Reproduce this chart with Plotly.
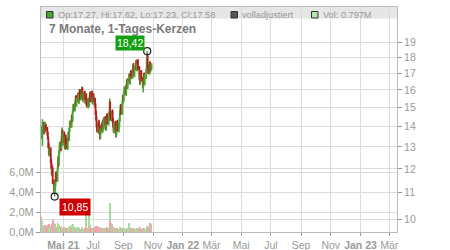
import numpy as np
import pandas as pd
import plotly.graph_objects as go

start_date = "2021-03-17"

opens = [13.70, 13.50, 13.90, 14.15, 13.75, 14.00, 13.85, 14.05, 13.90, 13.65,
         13.40, 13.10, 12.65, 12.90, 12.35, 12.15, 11.75, 12.00, 11.45, 11.00,
         11.10, 11.35, 11.75, 11.50, 12.05, 12.45, 12.25, 12.70, 13.15, 12.95,
         13.35, 13.75, 13.15, 13.60, 13.35, 12.95, 13.50, 13.30, 12.90, 13.30,
         13.65, 13.35, 13.80, 14.25, 14.00, 14.55, 14.30, 14.75, 15.15, 14.85,
         15.25, 15.60, 15.15, 15.40, 15.75, 15.30, 15.55, 15.95, 15.45, 15.70,
         16.10, 15.75, 15.40, 15.85, 15.60, 15.25, 15.70, 15.45, 15.05, 15.40,
         15.15, 15.45, 15.80, 15.35, 15.90, 15.65, 15.25, 15.70, 15.50, 15.15,
         14.75, 14.45, 14.10, 13.75, 14.25, 13.70, 14.00, 13.45, 13.75, 14.15,
         13.80, 14.30, 13.95, 14.45, 14.20, 13.85, 14.25, 14.60, 14.15, 14.40,
         14.65, 15.25, 14.65, 14.35, 14.80, 14.35, 14.10, 13.75, 14.20, 13.95,
         13.60, 14.05, 14.25, 13.80, 14.05, 14.30, 14.75, 15.10, 14.70, 15.25,
         15.65, 15.40, 15.80, 16.15, 15.75, 16.20, 16.55, 16.15, 16.55, 16.90,
         16.40, 16.70, 17.10, 16.75, 17.15, 17.50, 17.15, 16.85, 17.30, 17.65,
         17.20, 17.45, 17.75, 17.35, 16.75, 16.40, 16.75, 17.10, 16.65, 16.15,
         16.50, 16.95, 16.35, 16.75, 17.15, 17.80, 18.15, 17.45, 17.00, 17.65,
         17.15, 17.50, 17.27]

highs = [13.78, 14.05, 14.37, 14.25, 14.15, 14.10, 14.25, 14.12, 13.98, 13.75,
         13.50, 13.20, 12.95, 12.98, 12.45, 12.25, 12.05, 12.10, 11.55, 11.25,
         11.45, 11.85, 11.90, 12.10, 12.55, 12.60, 12.85, 13.25, 13.30, 13.55,
         13.95, 13.85, 13.70, 13.75, 13.45, 13.55, 13.60, 13.40, 13.45, 13.75,
         13.75, 13.95, 14.30, 14.35, 14.60, 14.65, 14.90, 15.20, 15.25, 15.40,
         15.65, 15.70, 15.55, 15.85, 15.85, 15.70, 16.05, 16.05, 15.85, 16.20,
         16.15, 15.85, 15.90, 15.95, 15.70, 15.75, 15.80, 15.55, 15.45, 15.50,
         15.60, 15.85, 15.90, 15.95, 15.95, 15.75, 15.75, 15.80, 15.55, 15.25,
         14.85, 14.55, 14.20, 14.30, 14.35, 14.05, 14.10, 13.90, 14.20, 14.25,
         14.35, 14.40, 14.50, 14.55, 14.30, 14.40, 14.65, 14.70, 14.55, 14.80,
         15.50, 15.35, 14.75, 14.85, 14.90, 14.45, 14.20, 14.25, 14.30, 14.05,
         14.10, 14.30, 14.35, 14.20, 14.45, 14.90, 15.15, 15.20, 15.40, 15.70,
         15.75, 15.95, 16.20, 16.25, 16.35, 16.60, 16.65, 16.70, 16.95, 17.00,
         16.85, 17.15, 17.20, 17.30, 17.55, 17.65, 17.25, 17.45, 17.80, 17.85,
         17.60, 17.85, 17.90, 17.45, 16.85, 16.90, 17.15, 17.20, 16.75, 16.65,
         17.00, 17.05, 16.90, 17.30, 17.95, 18.42, 18.25, 17.55, 17.70, 17.75,
         17.55, 17.60, 17.62]

lows = [13.40, 13.45, 13.05, 13.60, 13.65, 13.70, 13.75, 13.80, 13.55, 13.35,
        12.95, 12.60, 12.55, 12.25, 12.00, 11.72, 11.70, 11.35, 11.00, 10.85,
        11.05, 11.25, 11.45, 11.45, 11.95, 12.10, 12.15, 12.65, 12.80, 12.90,
        13.25, 13.10, 13.05, 13.20, 12.90, 12.85, 13.15, 12.90, 12.85, 13.25,
        13.30, 13.30, 13.75, 13.95, 13.95, 14.25, 14.25, 14.70, 14.80, 14.80,
        15.15, 15.10, 15.05, 15.35, 15.25, 15.20, 15.45, 15.40, 15.40, 15.65,
        15.60, 15.35, 15.30, 15.45, 15.20, 15.15, 15.30, 15.00, 14.95, 15.10,
        15.05, 15.35, 15.30, 15.30, 15.50, 15.20, 15.15, 15.35, 15.00, 14.60,
        14.30, 13.95, 13.70, 13.65, 13.65, 13.60, 13.35, 13.40, 13.65, 13.75,
        13.70, 13.90, 13.85, 14.05, 13.80, 13.80, 14.15, 14.10, 14.05, 14.30,
        14.55, 14.50, 14.30, 14.25, 14.20, 13.95, 13.70, 13.65, 13.80, 13.45,
        13.50, 13.95, 13.75, 13.70, 13.95, 14.25, 14.65, 14.60, 14.60, 15.15,
        15.35, 15.30, 15.70, 15.70, 15.65, 16.10, 16.05, 16.05, 16.45, 16.35,
        16.30, 16.60, 16.70, 16.65, 17.05, 17.00, 16.80, 16.75, 17.20, 17.15,
        17.10, 17.35, 17.20, 16.60, 16.30, 16.30, 16.65, 16.50, 16.10, 15.85,
        16.40, 16.30, 16.25, 16.65, 17.05, 17.70, 17.30, 16.95, 16.90, 17.10,
        17.05, 17.20, 17.23]

closes = [13.45, 13.95, 14.20, 13.70, 14.05, 13.80, 14.10, 13.85, 13.60, 13.40,
          13.05, 12.70, 12.85, 12.30, 12.10, 11.80, 11.95, 11.40, 11.10, 11.05,
          11.30, 11.70, 11.55, 12.00, 12.40, 12.20, 12.75, 13.10, 12.90, 13.40,
          13.70, 13.20, 13.55, 13.30, 13.00, 13.45, 13.25, 12.95, 13.35, 13.60,
          13.40, 13.85, 14.20, 14.05, 14.50, 14.35, 14.80, 15.10, 14.90, 15.30,
          15.55, 15.20, 15.45, 15.70, 15.35, 15.60, 15.90, 15.50, 15.75, 16.05,
          15.70, 15.45, 15.80, 15.55, 15.30, 15.65, 15.40, 15.10, 15.35, 15.20,
          15.50, 15.75, 15.40, 15.85, 15.60, 15.30, 15.65, 15.45, 15.10, 14.70,
          14.40, 14.05, 13.80, 14.20, 13.75, 13.95, 13.50, 13.80, 14.10, 13.85,
          14.25, 14.00, 14.40, 14.15, 13.90, 14.30, 14.55, 14.20, 14.45, 14.70,
          15.20, 14.60, 14.40, 14.75, 14.30, 14.05, 13.80, 14.15, 13.90, 13.65,
          14.00, 14.20, 13.85, 14.10, 14.35, 14.80, 15.05, 14.75, 15.30, 15.60,
          15.45, 15.85, 16.10, 15.80, 16.25, 16.50, 16.20, 16.60, 16.85, 16.45,
          16.75, 17.05, 16.80, 17.20, 17.45, 17.10, 16.90, 17.35, 17.60, 17.25,
          17.50, 17.70, 17.30, 16.70, 16.45, 16.80, 17.05, 16.60, 16.20, 16.55,
          16.90, 16.40, 16.80, 17.20, 17.85, 18.10, 17.40, 17.05, 17.60, 17.20,
          17.45, 17.27, 17.58]

volumes_m = [1.50, 1.10, 0.80, 0.65, 0.55, 0.70, 0.50, 0.45, 0.60, 0.75,
             0.70, 0.85, 0.55, 0.65, 0.60, 0.80, 0.50, 1.20, 0.90, 0.70,
             0.65, 0.80, 0.55, 1.00, 0.85, 0.60, 0.70, 0.55, 0.50, 0.60,
             0.45, 0.40, 0.35, 0.50, 0.30, 0.40, 0.35, 0.45, 0.30, 0.40,
             0.35, 0.55, 0.65, 0.50, 0.70, 0.45, 0.60, 0.80, 0.55, 0.50,
             0.40, 0.35, 0.45, 0.50, 0.30, 0.40, 0.45, 0.35, 0.30, 0.50,
             0.40, 0.35, 0.30, 0.45, 0.40, 2.10, 0.60, 0.45, 0.35, 0.40,
             3.10, 0.70, 0.40, 0.35, 0.45, 0.30, 0.40, 0.35, 0.50, 0.60,
             0.55, 0.45, 0.65, 0.50, 0.40, 0.35, 0.55, 0.45, 0.30, 0.40,
             0.35, 0.30, 0.40, 0.35, 0.45, 0.30, 0.50, 0.40, 0.35, 0.45,
             2.90, 1.10, 0.95, 0.80, 0.65, 0.55, 0.50, 0.45, 0.40, 0.35,
             0.40, 0.30, 0.45, 0.35, 0.30, 0.40, 0.50, 0.35, 0.45, 0.40,
             0.35, 0.30, 0.40, 0.35, 0.30, 0.40, 0.35, 0.45, 0.90, 0.40,
             0.30, 0.35, 0.40, 0.30, 0.45, 0.35, 0.30, 0.40, 0.35, 0.30,
             0.40, 0.35, 0.30, 0.45, 0.55, 0.40, 0.35, 0.30, 0.40, 0.45,
             0.35, 0.40, 0.30, 0.35, 0.45, 0.60, 0.50, 0.40, 0.85, 0.90,
             0.70, 0.80, 0.797]

x_tick_dates = ["2021-05-01", "2021-07-01", "2021-09-01", "2021-11-01", "2022-01-01", "2022-03-01",
                "2022-05-01", "2022-07-01", "2022-09-01", "2022-11-01", "2023-01-01", "2023-03-01"]
x_tick_labels = ["<b>Mai 21</b>", "Jul", "Sep", "Nov", "<b>Jan 22</b>", "Mär",
                 "Mai", "Jul", "Sep", "Nov", "<b>Jan 23</b>", "Mär"]
price_ticks = [10, 11, 12, 13, 14, 15, 16, 17, 18, 19]
vol_ticks = [0, 2, 4, 6]
vol_tick_labels = ["0,0M", "2,0M", "4,0M", "6,0M"]

title_text = "7 Monate, 1-Tages-Kerzen"
legend_ohlc = "Op:17.27, Hi:17.62, Lo:17.23, Cl:17.58"
legend_adj = "volladjustiert"
legend_vol = "Vol: 0.797M"

n = len(closes)
dates = pd.bdate_range(start_date, periods=n)

GREEN = "#46a832"
RED = "#b31c1c"
VGREEN = "#a6dca0"
VRED = "#f2a4ad"
GRID = "#dcdcdc"
TXT = "#9a9a9a"
FONT = "Liberation Sans, Arial, sans-serif"

vol_colors = [VGREEN if c >= o else VRED for o, c in zip(opens, closes)]

fig = go.Figure()
fig.add_trace(go.Bar(x=dates, y=volumes_m, marker=dict(color=vol_colors, line=dict(width=0)),
                     width=86400000 * 1.6, yaxis="y", hoverinfo="skip", showlegend=False))
fig.add_trace(go.Candlestick(x=dates, open=opens, high=highs, low=lows, close=closes, yaxis="y2",
                             increasing=dict(line=dict(color=GREEN, width=1.6), fillcolor=GREEN),
                             decreasing=dict(line=dict(color=RED, width=1.6), fillcolor=RED),
                             whiskerwidth=0, hoverinfo="skip", showlegend=False))

i_hi = int(np.argmax(highs))
i_lo = int(np.argmin(lows))
fig.add_trace(go.Scatter(x=[dates[i_hi], dates[i_lo]], y=[highs[i_hi], lows[i_lo]], yaxis="y2",
                         mode="markers", marker=dict(symbol="circle-open", size=7, color="#222",
                                                     line=dict(width=1.2)),
                         hoverinfo="skip", showlegend=False))

L, R, T, B = 41, 53, 7, 18
W, H = 450, 250
pw, ph = W - L - R, H - T - B

def px(xp):
    return (xp - L) / pw

def py(yp):
    return (H - B - yp) / ph

shapes = [
    dict(type="rect", xref="paper", yref="paper", x0=0, x1=1, y0=py(18.5), y1=1,
         fillcolor="#e6e6e6", line=dict(width=0), layer="below"),
    dict(type="rect", xref="paper", yref="paper", x0=px(46.5), x1=px(53), y0=py(18), y1=py(11.5),
         fillcolor=GREEN, line=dict(color="#333", width=1)),
    dict(type="rect", xref="paper", yref="paper", x0=px(231), x1=px(237.5), y0=py(18), y1=py(11.5),
         fillcolor="#555555", line=dict(color="#333", width=1)),
    dict(type="rect", xref="paper", yref="paper", x0=px(311.5), x1=px(318), y0=py(18), y1=py(11.5),
         fillcolor="#b4e2ae", line=dict(color="#333", width=1)),
]

annotations = [
    dict(text=legend_ohlc, xref="paper", yref="paper", x=px(55.5), y=py(14.8), xanchor="left",
         yanchor="middle", showarrow=False, font=dict(family=FONT, size=9.2, color="#999")),
    dict(text=legend_adj, xref="paper", yref="paper", x=px(239.5), y=py(14.8), xanchor="left",
         yanchor="middle", showarrow=False, font=dict(family=FONT, size=9.2, color="#999")),
    dict(text=legend_vol, xref="paper", yref="paper", x=px(320.5), y=py(14.8), xanchor="left",
         yanchor="middle", showarrow=False, font=dict(family=FONT, size=9.2, color="#999")),
    dict(text="<b>" + title_text + "</b>", xref="paper", yref="paper", x=px(46.5), y=py(29.5),
         xanchor="left", yanchor="middle", showarrow=False, font=dict(family=FONT, size=12, color="#7a7a7a")),
    dict(text=f"{highs[i_hi]:.2f}".replace(".", ","), x=dates[i_hi], y=np.log10(highs[i_hi]), xref="x", yref="y2",
         xanchor="right", yanchor="middle", xshift=-2, yshift=8, showarrow=False, bgcolor="#12a012",
         borderpad=1, font=dict(family=FONT, size=10.5, color="white")),
    dict(text=f"{lows[i_lo]:.2f}".replace(".", ","), x=dates[i_lo], y=np.log10(lows[i_lo]), xref="x", yref="y2",
         xanchor="left", yanchor="middle", xshift=4, yshift=-10, showarrow=False, bgcolor="#cc0000",
         borderpad=2, font=dict(family=FONT, size=10.5, color="white")),
]

fig.update_layout(
    width=W, height=H, margin=dict(l=L, r=R, t=T, b=B, pad=0, autoexpand=False),
    paper_bgcolor="white", plot_bgcolor="white",
    font=dict(family=FONT, size=11, color=TXT),
    bargap=0, showlegend=False, shapes=shapes, annotations=annotations,
    xaxis=dict(type="date", range=["2021-03-16", "2023-03-17"], tickvals=x_tick_dates, ticktext=x_tick_labels,
               tickangle=0, automargin=False,
               showgrid=True, gridcolor=GRID, gridwidth=1, showline=True, linecolor="#bbbbbb", mirror=True,
               ticks="outside", ticklen=3, tickcolor="#999", tickfont=dict(size=10.5, color=TXT),
               rangeslider=dict(visible=False), zeroline=False, fixedrange=True),
    yaxis=dict(range=[0, ph / 10.0], tickvals=vol_ticks, ticktext=vol_tick_labels, side="left",
               automargin=False,
               showgrid=True, gridcolor=GRID, showline=True, linecolor="#bbbbbb",
               ticks="outside", ticklen=4, tickcolor="#999", tickfont=dict(size=11, color=TXT),
               zeroline=False, fixedrange=True),
    yaxis2=dict(type="log", range=[np.log10(9.538), np.log10(21.63)], tickvals=price_ticks,
                ticktext=[str(v) for v in price_ticks], side="right", overlaying="y", automargin=False,
                showgrid=True, gridcolor=GRID, showline=True, linecolor="#bbbbbb",
                ticks="outside", ticklen=4, tickcolor="#999", tickfont=dict(size=10.5, color=TXT),
                zeroline=False, fixedrange=True),
)

fig.write_html("out.html")
